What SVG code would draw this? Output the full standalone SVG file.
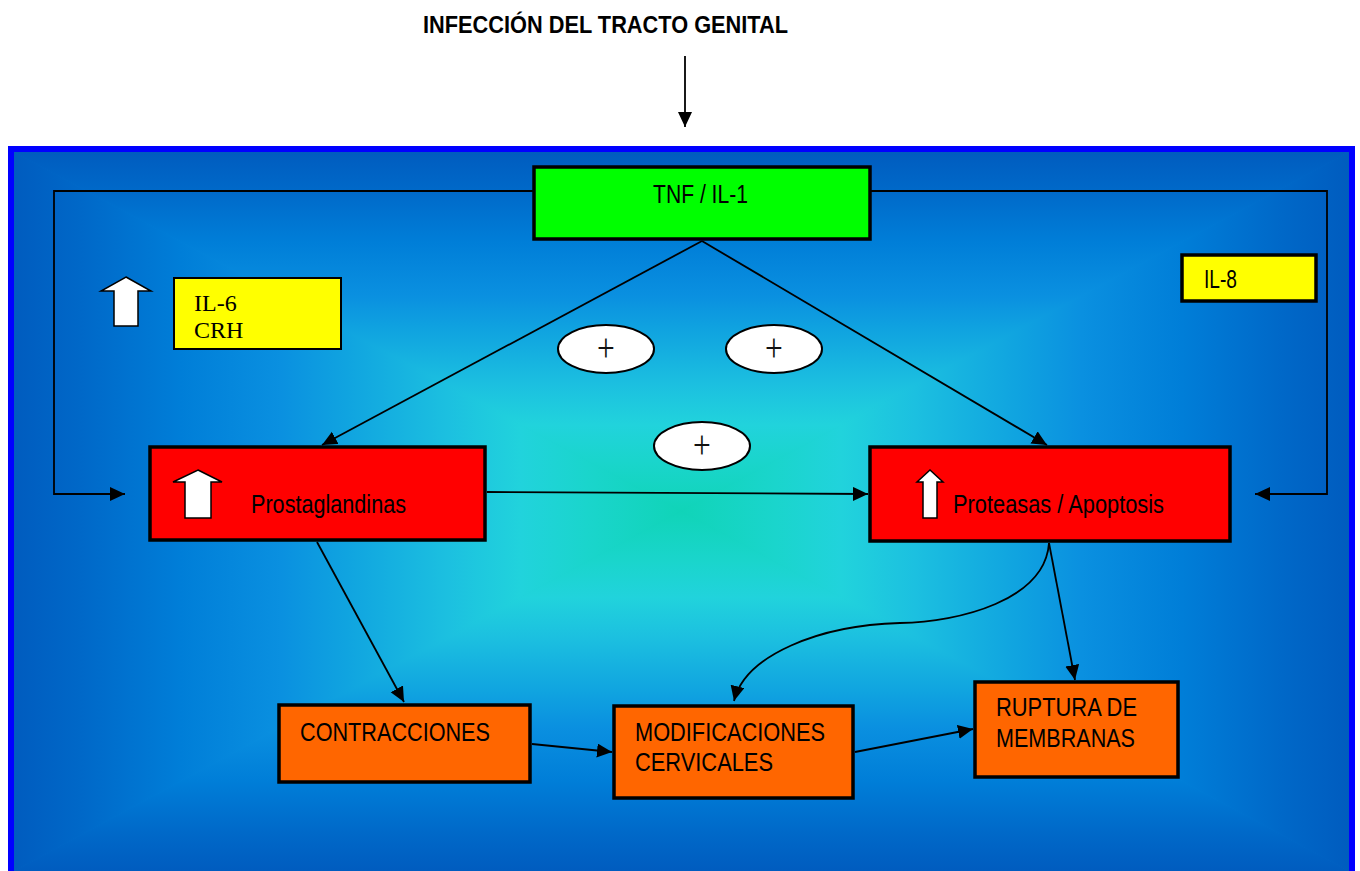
<svg xmlns="http://www.w3.org/2000/svg" width="1360" height="871" viewBox="0 0 1360 871">
  <defs>
    <style>
      .box { stroke: #000; stroke-width: 3.5; }
      .red { fill: #ff0000; }
      .orange { fill: #ff6600; }
      .lbl { font-family: "Liberation Sans", Arial, sans-serif; font-size: 25px; fill: #000; }
      .ser { font-family: "Liberation Serif", "Times New Roman", serif; font-size: 24px; fill: #000; }
      .conn { fill: none; stroke: #000; stroke-width: 1.8; }
      .up { fill: #fff; stroke: #000; stroke-width: 1.5; stroke-linejoin: miter; }
      .plus { fill: #fff; stroke: #000; stroke-width: 2; }
      .pl { font-family: "Liberation Serif", "Times New Roman", serif; font-size: 30px; fill: #111; }
    </style>
    <marker id="ah" markerUnits="userSpaceOnUse" markerWidth="16" markerHeight="16" refX="15" refY="7" orient="auto">
      <path d="M0,0 L15,7 L0,14 Z" fill="#000"/>
    </marker>
    <!-- rectangular (path) gradient built from four triangles, centre at (681,511) -->
    <linearGradient id="gT" gradientUnits="userSpaceOnUse" x1="0" y1="152" x2="0" y2="511">
      <stop offset="0" stop-color="#005cbf"/>
      <stop offset="0.1" stop-color="#0068c8"/>
      <stop offset="0.25" stop-color="#007ed8"/>
      <stop offset="0.4" stop-color="#0a90e0"/>
      <stop offset="0.5" stop-color="#10a4e0"/>
      <stop offset="0.65" stop-color="#1cc0e0"/>
      <stop offset="0.76" stop-color="#21d3dc"/>
      <stop offset="0.86" stop-color="#1ad5cc"/>
      <stop offset="1" stop-color="#10d4b8"/>
    </linearGradient>
    <linearGradient id="gB" href="#gT" x1="0" y1="871" x2="0" y2="511"/>
    <linearGradient id="gL" href="#gT" x1="14" y1="0" x2="681" y2="0"/>
    <linearGradient id="gR" href="#gT" x1="1349" y1="0" x2="681" y2="0"/>
  </defs>

  <rect width="1360" height="871" fill="#fff"/>

  <!-- title and incoming arrow -->
  <g id="title">
    <text x="423" y="33" font-family="'Liberation Sans', Arial, sans-serif" font-weight="bold" font-size="24" textLength="365" lengthAdjust="spacingAndGlyphs">INFECCIÓN DEL TRACTO GENITAL</text>
    <line x1="685" y1="56" x2="685" y2="127" class="conn" marker-end="url(#ah)"/>
  </g>

  <!-- background panel -->
  <g id="panel">
    <rect x="11" y="149" width="1341" height="740" fill="#0aa0e0"/>
    <polygon points="14,152 1349,152 681,511" fill="url(#gT)" stroke="url(#gT)" stroke-width="1"/>
    <polygon points="14,871 1349,871 681,511" fill="url(#gB)" stroke="url(#gB)" stroke-width="1"/>
    <polygon points="14,152 14,871 681,511" fill="url(#gL)" stroke="url(#gL)" stroke-width="1"/>
    <polygon points="1349,152 1349,871 681,511" fill="url(#gR)" stroke="url(#gR)" stroke-width="1"/>
    <rect x="11" y="149" width="1341" height="740" fill="none" stroke="#0000ff" stroke-width="6"/>
  </g>

  <!-- connectors -->
  <g id="connectors">
    <polyline class="conn" points="534,191 54,191 54,494 125,494" marker-end="url(#ah)"/>
    <polyline class="conn" points="870,191 1327,191 1327,494 1255,494" marker-end="url(#ah)"/>
    <line class="conn" x1="702" y1="241" x2="322" y2="445" marker-end="url(#ah)"/>
    <line class="conn" x1="702" y1="241" x2="1047" y2="445" marker-end="url(#ah)"/>
    <line class="conn" x1="487" y1="492" x2="868" y2="494" marker-end="url(#ah)"/>
    <line class="conn" x1="317" y1="542" x2="404" y2="702" marker-end="url(#ah)"/>
    <line class="conn" x1="532" y1="744" x2="612" y2="752" marker-end="url(#ah)"/>
    <line class="conn" x1="855" y1="752" x2="973" y2="729" marker-end="url(#ah)"/>
    <line class="conn" x1="1049" y1="543" x2="1075" y2="680" marker-end="url(#ah)"/>
    <path class="conn" d="M1049,543 C1045,600 960,622 900,623 C820,625 745,655 734,701" marker-end="url(#ah)"/>
  </g>

  <g id="tnf">
    <rect class="box" x="534" y="167" width="336" height="72" fill="#00ff00"/>
    <text class="lbl" x="653" y="203" textLength="95" lengthAdjust="spacingAndGlyphs">TNF / IL-1</text>
  </g>

  <g id="il6">
    <polygon class="up" points="126,277 151,291 138,291 138,326 114,326 114,291 101,291"/>
    <rect x="174" y="278" width="167" height="71" fill="#ffff00" stroke="#000" stroke-width="2"/>
    <text class="ser" x="194" y="311">IL-6</text>
    <text class="ser" x="194" y="338">CRH</text>
  </g>

  <g id="il8">
    <rect class="box" x="1182" y="255" width="134" height="46" fill="#ffff00"/>
    <text class="lbl" x="1204" y="288" font-size="23" textLength="33" lengthAdjust="spacingAndGlyphs">IL-8</text>
  </g>

  <g id="plus">
    <ellipse class="plus" cx="606" cy="349" rx="48" ry="24"/>
    <ellipse class="plus" cx="774" cy="349" rx="48" ry="24"/>
    <ellipse class="plus" cx="702" cy="446" rx="48" ry="24"/>
    <text class="pl" text-anchor="middle" transform="translate(606,351) scale(1.05,1.3)" y="7.5">+</text>
    <text class="pl" text-anchor="middle" transform="translate(774,351) scale(1.05,1.3)" y="7.5">+</text>
    <text class="pl" text-anchor="middle" transform="translate(702,448) scale(1.05,1.3)" y="7.5">+</text>
  </g>

  <g id="prostaglandinas">
    <rect class="box red" x="150" y="447" width="335" height="93"/>
    <polygon class="up" points="198,470 222,482 211,482 211,518 185,518 185,482 173,482"/>
    <text class="lbl" x="251" y="513" textLength="155" lengthAdjust="spacingAndGlyphs">Prostaglandinas</text>
  </g>

  <g id="proteasas">
    <rect class="box red" x="870" y="447" width="360" height="94"/>
    <polygon class="up" points="930,470 943,482 937,482 937,518 923,518 923,482 917,482"/>
    <text class="lbl" x="953" y="513" textLength="211" lengthAdjust="spacingAndGlyphs">Proteasas / Apoptosis</text>
  </g>

  <g id="contracciones">
    <rect class="box orange" x="279" y="705" width="251" height="77"/>
    <text class="lbl" x="300" y="741" textLength="190" lengthAdjust="spacingAndGlyphs">CONTRACCIONES</text>
  </g>

  <g id="modificaciones">
    <rect class="box orange" x="614" y="706" width="239" height="92"/>
    <text class="lbl" x="635" y="741" textLength="190" lengthAdjust="spacingAndGlyphs">MODIFICACIONES</text>
    <text class="lbl" x="635" y="771" textLength="138" lengthAdjust="spacingAndGlyphs">CERVICALES</text>
  </g>

  <g id="ruptura">
    <rect class="box orange" x="975" y="682" width="203" height="95"/>
    <text class="lbl" x="996" y="716" textLength="141" lengthAdjust="spacingAndGlyphs">RUPTURA DE</text>
    <text class="lbl" x="996" y="747" textLength="139" lengthAdjust="spacingAndGlyphs">MEMBRANAS</text>
  </g>
</svg>
